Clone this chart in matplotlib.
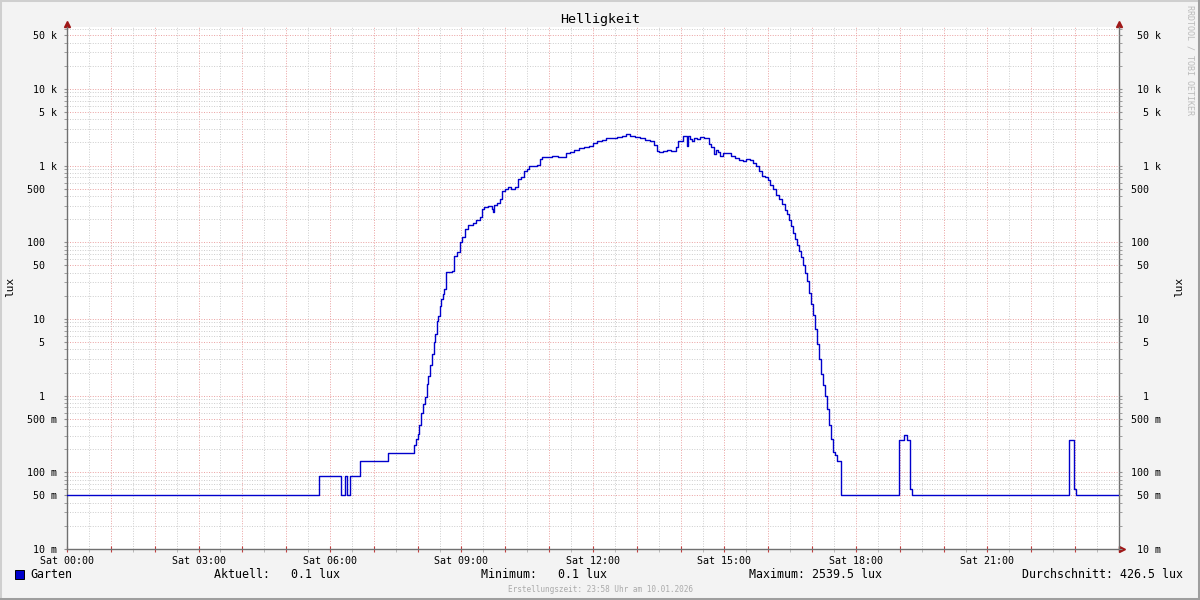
import numpy as np
import matplotlib
matplotlib.use('Agg')
import matplotlib.pyplot as plt
from matplotlib.patches import Rectangle
from matplotlib.lines import Line2D

# light readings (lux) of "Garten", hours since Sat 00:00
dawn_h = [0.00, 5.75, 6.25, 6.34, 6.39, 6.46, 6.68, 7.32, 7.92, 7.96]
dawn_lux = [0.05, 0.09, 0.05, 0.09, 0.05, 0.09, 0.14, 0.18, 0.23, 0.27]

rise_h = [8.01, 8.04, 8.08, 8.12, 8.17, 8.21, 8.24, 8.28, 8.33, 8.37,
          8.40, 8.44, 8.46, 8.51, 8.53, 8.58, 8.60, 8.65, 8.78, 8.83,
          8.90, 8.97, 9.01, 9.08, 9.15, 9.26, 9.33, 9.42, 9.47, 9.51,
          9.61, 9.70, 9.72, 9.74, 9.81, 9.88, 9.92, 9.99, 10.06, 10.13,
          10.22, 10.29, 10.36, 10.43, 10.50, 10.54, 10.63, 10.72, 10.79, 10.84,
          10.97]
rise_lux = [0.32, 0.42, 0.60, 0.77, 0.97, 1.4, 1.78, 2.5, 3.45, 5.0,
            6.3, 9.3, 10.8, 14.7, 18.1, 21, 24.5, 41, 42, 66,
            75, 101, 117, 149, 169, 179, 196, 214, 273, 290,
            298, 273, 249, 308, 327, 369, 469, 498, 529, 498,
            529, 673, 714, 857, 910, 996, 996, 1026, 1230, 1306,
            1306]

noon_h = [11.07, 11.20, 11.32, 11.39, 11.48, 11.57, 11.68, 11.80, 11.91, 12.00,
          12.09, 12.21, 12.30, 12.43, 12.55, 12.66, 12.75, 12.85, 12.96, 13.07,
          13.19, 13.30, 13.39, 13.46, 13.51, 13.60, 13.69, 13.78, 13.89, 13.94,
          14.01, 14.05, 14.10, 14.15, 14.17, 14.21, 14.26, 14.31, 14.37, 14.44,
          14.53, 14.60, 14.65, 14.69, 14.76, 14.81, 14.85, 14.90, 14.97]
noon_lux = [1346, 1306, 1306, 1473, 1510, 1612, 1710, 1750, 1795, 1990,
            2114, 2165, 2313, 2313, 2383, 2440, 2540, 2440, 2330, 2313,
            2165, 2060, 1870, 1570, 1518, 1570, 1612, 1570, 1750, 2114,
            2114, 2440, 2440, 1795, 2440, 2240, 2114, 2313, 2240, 2383,
            2313, 2313, 1930, 1750, 1430, 1612, 1510, 1346, 1473]

dusk_h = [15.06, 15.15, 15.24, 15.33, 15.42, 15.49, 15.58, 15.65, 15.72, 15.79,
          15.86, 15.93, 15.99, 16.04, 16.11, 16.18, 16.24, 16.31, 16.38, 16.43,
          16.47, 16.52, 16.56, 16.61, 16.66, 16.70, 16.74, 16.79, 16.84, 16.88,
          16.93, 16.97, 17.02, 17.07, 17.11, 17.16, 17.20, 17.25, 17.29, 17.34,
          17.38, 17.43, 17.48, 17.52, 17.57, 17.66]
dusk_lux = [1473, 1346, 1270, 1194, 1160, 1230, 1194, 1090, 996, 857,
            736, 714, 653, 561, 498, 416, 369, 318, 265, 235,
            196, 163, 132, 110, 92, 77, 64, 50, 39.6, 31,
            21.7, 15.6, 11.2, 7.3, 4.67, 2.97, 1.89, 1.36, 1.0, 0.66,
            0.42, 0.27, 0.186, 0.17, 0.14, 0.05]

night_h = [18.98, 19.10, 19.17, 19.23, 19.28, 22.86, 22.98, 23.02, 24.0]
night_lux = [0.26, 0.31, 0.26, 0.06, 0.05, 0.26, 0.06, 0.05, 0.05]

hours = np.array(dawn_h + rise_h + noon_h + dusk_h + night_h)
lux = np.array(dawn_lux + rise_lux + noon_lux + dusk_lux + night_lux)

legend_stats = [('Aktuell:   0.1 lux', 214), ('Minimum:   0.1 lux', 481),
                ('Maximum: 2539.5 lux', 749)]

plt.rcParams['font.family'] = ['DejaVu Sans Mono', 'DejaVu Sans']

W, H = 1200, 600
fig = plt.figure(figsize=(12, 6), dpi=100, facecolor='#f3f3f3')
ax = fig.add_axes([67 / W, 51 / H, 1052 / W, 522 / H])
ax.set_facecolor('white')

ax.plot(hours, lux, drawstyle='steps-post', color='#0000cc', lw=1, zorder=3)

ax.set_yscale('log')
ax.set_xlim(0, 24)
ax.set_ylim(0.01, 64000)


def si(v):
    if v >= 1000:
        return '%g k' % (v / 1000)
    if v >= 1:
        return '%g  ' % v
    return '%g m' % round(v * 1000)


ymajor = [m * 10.0 ** d for d in range(-2, 5) for m in (1, 5)]
yminor = [m * 10.0 ** d for d in range(-2, 5) for m in (2, 3, 4, 6, 7, 8, 9) if m * 10.0 ** d < 64000]
ax.set_yticks(ymajor)
ax.set_yticks(yminor, minor=True)
ax.set_yticklabels([si(v) for v in ymajor])
ax.yaxis.set_minor_formatter(plt.NullFormatter())

ax.set_xticks(range(25))
ax.set_xticks(np.arange(0.5, 24, 1), minor=True)
ax.set_xticklabels(['Sat %02d:00' % h if h % 3 == 0 and h < 24 else '' for h in range(25)])

ax.grid(which='major', color='#eaa0a0', lw=0.7, linestyle=(0, (1, 1.6)))
ax.grid(which='minor', color='#cccccc', lw=0.7, linestyle=(0, (1, 1.6)))
ax.set_axisbelow(True)

for s in ('left', 'bottom', 'right'):
    ax.spines[s].set_color('#707070')
    ax.spines[s].set_linewidth(1)
ax.spines['top'].set_visible(False)

ax.tick_params(axis='x', which='major', direction='inout', length=4, color='#c04040',
               labelsize=7.2, pad=3)
ax.tick_params(axis='x', which='minor', direction='out', length=2, color='#b0b0b0')
ax.tick_params(axis='y', which='both', direction='out', length=2, color='#909090',
               labelsize=7.2, pad=5)

# right-hand axis with the same labels
ax2 = ax.twinx()
ax2.set_yscale('log')
ax2.set_ylim(ax.get_ylim())
ax2.set_yticks(ymajor)
ax2.set_yticks(yminor, minor=True)
ax2.set_yticklabels([si(v) for v in ymajor], ha='right')
ax2.yaxis.set_minor_formatter(plt.NullFormatter())
ax2.tick_params(axis='y', which='both', direction='out', length=2, color='#909090',
                labelsize=7.2, pad=28)
for s in ax2.spines.values():
    s.set_visible(False)

# arrow heads
arrow_c = '#a01818'
ax.plot([0], [1 + 3 / 522], marker='^', ms=4.5, color=arrow_c, transform=ax.transAxes, clip_on=False)
ax.plot([1], [1 + 3 / 522], marker='^', ms=4.5, color=arrow_c, transform=ax.transAxes, clip_on=False)
ax.plot([1 + 3 / 1052], [0], marker='>', ms=4.5, color=arrow_c, transform=ax.transAxes, clip_on=False)

fig.text(0.5, 1 - 19 / H, 'Helligkeit', ha='center', va='center', fontsize=9.6)
fig.text(10 / W, 1 - 287 / H, 'lux', rotation=90, ha='center', va='center', fontsize=8)
fig.text(1179 / W, 1 - 287 / H, 'lux', rotation=90, ha='center', va='center', fontsize=8)
fig.text(1190 / W, 1 - 5 / H, 'RRDTOOL / TOBI OETIKER', rotation=270, ha='center', va='top',
         fontsize=6, color='#bbbbbb')

# legend row
fig.patches.append(Rectangle((15 / W, 1 - 579 / H), 9 / W, 9 / H, transform=fig.transFigure,
                             facecolor='#0000cc', edgecolor='black', lw=0.7))
fig.text(30 / W, 1 - 575 / H, 'Garten', ha='left', va='center', fontsize=8.4)
for txt, x in legend_stats:
    fig.text(x / W, 1 - 575 / H, txt, ha='left', va='center', fontsize=8.4)
fig.text(1183 / W, 1 - 575 / H, 'Durchschnitt: 426.5 lux', ha='right', va='center', fontsize=8.4)
fig.text(0.5, 1 - 589 / H, 'Erstellungszeit: 23:58 Uhr am 10.01.2026', ha='center', va='center',
         fontsize=5.6, color='#aaaaaa')

# frame around the image
fig.add_artist(Line2D([0, 1], [1, 1], color='#cfcfcf', lw=2.9, transform=fig.transFigure))
fig.add_artist(Line2D([0, 0], [0, 1], color='#cfcfcf', lw=2.9, transform=fig.transFigure))
fig.add_artist(Line2D([0, 1], [0, 0], color='#9e9e9e', lw=2.9, transform=fig.transFigure))
fig.add_artist(Line2D([1, 1], [0, 1], color='#9e9e9e', lw=2.9, transform=fig.transFigure))

fig.savefig('out.png', dpi=100, facecolor=fig.get_facecolor())
